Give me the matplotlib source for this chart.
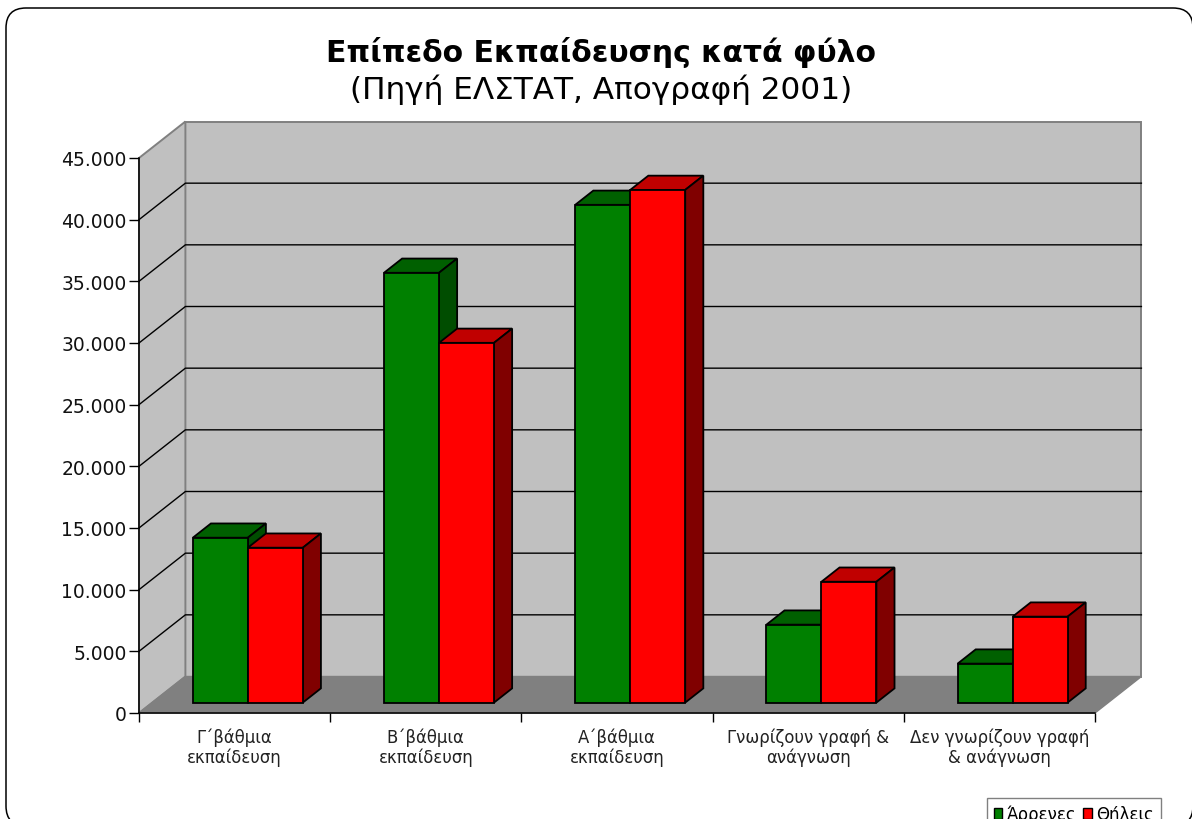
import matplotlib
matplotlib.use("Agg")
import matplotlib.pyplot as plt
from matplotlib.patches import Polygon, FancyBboxPatch, Patch

# values
categories = ['Γ΄βάθμια\nεκπαίδευση', 'Β΄βάθμια\nεκπαίδευση', 'Α΄βάθμια\nεκπαίδευση',
              'Γνωρίζουν γραφή &\nανάγνωση', 'Δεν γνωρίζουν γραφή\n& ανάγνωση']
males = [13370, 34850, 40360, 6320, 3160]
females = [12560, 29170, 41570, 9800, 6970]
y_ticks = [0, 5000, 10000, 15000, 20000, 25000, 30000, 35000, 40000, 45000]
y_labels = ['0', '5.000', '10.000', '15.000', '20.000', '25.000', '30.000', '35.000', '40.000', '45.000']

W, H = 1192, 820
fig = plt.figure(figsize=(W / 100, H / 100), dpi=100)
fig.patch.set_facecolor('white')

# rounded frame, runs off the bottom and right of the picture
frame = FancyBboxPatch((26, H - 807), 1147, 778, boxstyle='round,pad=20,rounding_size=20',
                       transform=None, fc='white', ec='black', lw=1.1, zorder=-1)
fig.add_artist(frame)

ax = fig.add_axes([139 / W, (H - 714) / H, (1095 - 139) / W, (714 - 159) / H])
ax.set_xlim(0, 5)
ax.set_ylim(0, 45000)
ax.patch.set_visible(False)

# depth of the oblique projection, in data units
dx = 46.4 / (956 / 5)
dy = 36.5 / (555 / 45000)


def poly(pts, fc, ec='black', lw=1.3, z=2):
    ax.add_patch(Polygon(pts, closed=True, fc=fc, ec=ec, lw=lw, zorder=z,
                         clip_on=False, joinstyle='miter'))


top = y_ticks[-1]
# walls and floor
poly([(dx, dy), (5 + dx, dy), (5 + dx, top + dy), (dx, top + dy)], '#C0C0C0', '#808080', 1.4, 1)
poly([(0, 0), (dx, dy), (dx, top + dy), (0, top)], '#C0C0C0', '#808080', 1.4, 1)
poly([(0, 0), (5, 0), (5 + dx, dy), (dx, dy)], '#808080', '#808080', 1.0, 1)

for v in y_ticks[1:-1]:
    ax.plot([0, dx, 5 + dx], [v, v + dy, v + dy], color='black', lw=1.0, zorder=1.5, clip_on=False)

# bars sit a bit inside the floor
start = 0.285
depth = 0.39
bar_w = 55 / (956 / 5)


def bar(x0, val, front, lid, side):
    ox, oy = start * dx, start * dy
    bx, by = depth * dx, depth * dy
    x1 = x0 + bar_w
    poly([(x0 + ox, oy + val), (x1 + ox, oy + val), (x1 + ox + bx, oy + val + by), (x0 + ox + bx, oy + val + by)], lid)
    poly([(x1 + ox, oy), (x1 + ox + bx, oy + by), (x1 + ox + bx, oy + val + by), (x1 + ox, oy + val)], side)
    poly([(x0 + ox, oy), (x1 + ox, oy), (x1 + ox, oy + val), (x0 + ox, oy + val)], front)


for i in range(len(categories)):
    bar(i + 0.5 - bar_w, males[i], '#008000', '#006000', '#004D00')
    bar(i + 0.5, females[i], '#FF0000', '#C00000', '#800000')

for s in ['top', 'right']:
    ax.spines[s].set_visible(False)
for s in ['left', 'bottom']:
    ax.spines[s].set_linewidth(1.1)
    ax.spines[s].set_zorder(3)

ax.set_yticks(y_ticks)
ax.set_yticklabels(y_labels, fontsize=13.5, color='#111111')
ax.tick_params(axis='y', length=7, width=1.0, pad=2)
ax.set_xticks(range(6))
ax.set_xticklabels([])
ax.tick_params(axis='x', which='major', length=6.5, width=1.0)
ax.set_xticks([i + 0.5 for i in range(5)], minor=True)
ax.set_xticklabels(categories, minor=True, fontsize=11.9, color='#222222', linespacing=1.08)
ax.tick_params(axis='x', which='minor', length=0, pad=10.5)

fig.text(601 / W, 1 - 52 / H, 'Επίπεδο Εκπαίδευσης κατά φύλο', ha='center', va='center',
         fontsize=21.5, fontweight='bold', color='black')
fig.text(601 / W, 1 - 90 / H, '(Πηγή ΕΛΣΤΑΤ, Απογραφή 2001)', ha='center', va='center',
         fontsize=22.4, color='black')

handles = [Patch(fc='#008000', ec='black', label='Άρρενες'), Patch(fc='#FF0000', ec='black', label='Θήλεις')]
fig.legend(handles=handles, loc='upper left', bbox_to_anchor=(987 / W, 1 - 799 / H), ncol=2,
           fontsize=12, frameon=True, fancybox=False, edgecolor='#808080', framealpha=1,
           handlelength=0.5, handleheight=0.7, handletextpad=0.3, columnspacing=0.4,
           borderpad=0.4, borderaxespad=0)

fig.savefig('out.png', dpi=100)
